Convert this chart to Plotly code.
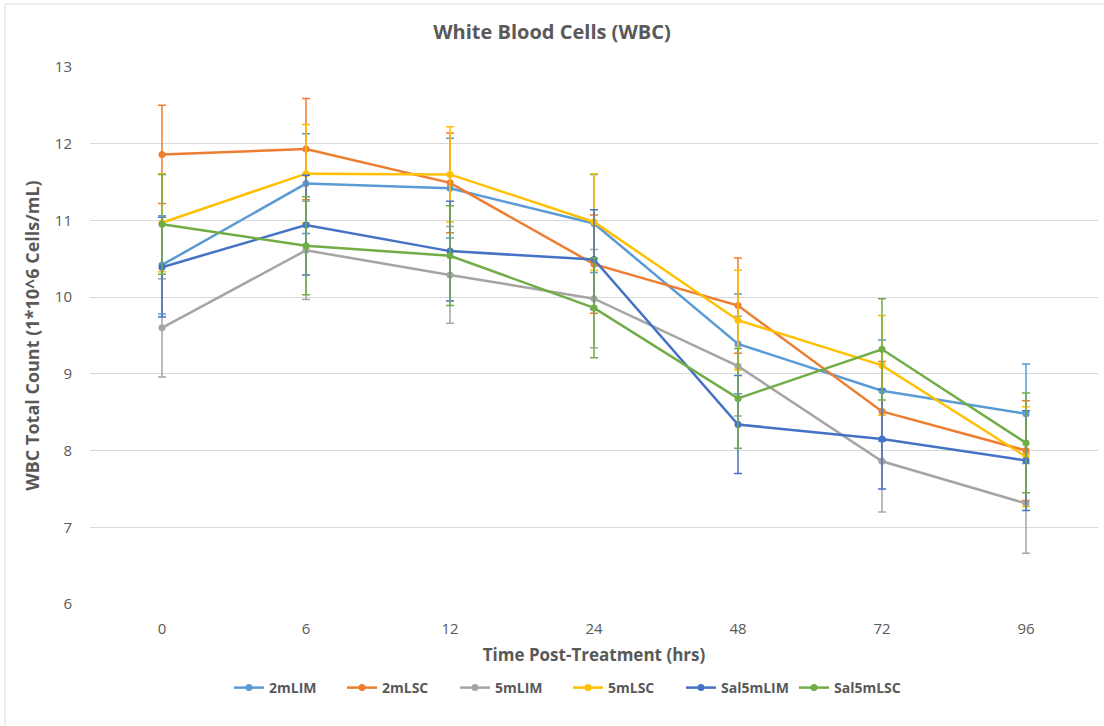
import plotly.graph_objects as go

times = ["0", "6", "12", "24", "48", "72", "96"]
series_names = ["2mLIM", "2mLSC", "5mLIM", "5mLSC", "Sal5mLIM", "Sal5mLSC"]
colors = ["#5B9BD5", "#ED7D31", "#A5A5A5", "#FFC000", "#4472C4", "#70AD47"]

v_2mLIM = [10.42, 11.48, 11.42, 10.96, 9.39, 8.78, 8.48]
v_2mLSC = [11.86, 11.93, 11.49, 10.43, 9.89, 8.51, 8.00]
v_5mLIM = [9.60, 10.61, 10.29, 9.98, 9.10, 7.86, 7.31]
v_5mLSC = [10.97, 11.61, 11.60, 10.98, 9.70, 9.11, 7.92]
v_Sal5mLIM = [10.39, 10.94, 10.60, 10.49, 8.34, 8.15, 7.87]
v_Sal5mLSC = [10.95, 10.67, 10.54, 9.86, 8.68, 9.32, 8.10]

e_2mLIM = [0.64, 0.65, 0.65, 0.64, 0.65, 0.66, 0.65]
e_2mLSC = [0.64, 0.66, 0.65, 0.64, 0.62, 0.65, 0.65]
e_5mLIM = [0.64, 0.64, 0.63, 0.64, 0.65, 0.66, 0.65]
e_5mLSC = [0.64, 0.64, 0.62, 0.63, 0.65, 0.65, 0.65]
e_Sal5mLIM = [0.65, 0.65, 0.65, 0.65, 0.64, 0.65, 0.65]
e_Sal5mLSC = [0.65, 0.64, 0.65, 0.65, 0.65, 0.66, 0.65]

values = [v_2mLIM, v_2mLSC, v_5mLIM, v_5mLSC, v_Sal5mLIM, v_Sal5mLSC]
errors = [e_2mLIM, e_2mLSC, e_5mLIM, e_5mLSC, e_Sal5mLIM, e_Sal5mLSC]

FONT = "Open Sans"
GRAY = "#595959"

fig = go.Figure()
for name, col, v, e in zip(series_names, colors, values, errors):
    fig.add_trace(go.Scatter(
        x=times, y=v, name=name, mode="lines+markers",
        line=dict(color=col, width=2.5),
        marker=dict(color=col, size=7, symbol="circle"),
        error_y=dict(type="data", array=e, visible=True, color=col, thickness=1.5, width=4),
    ))

fig.update_layout(
    width=1104, height=726,
    margin=dict(l=90, r=6, t=67, b=122),
    paper_bgcolor="white", plot_bgcolor="white",
    font=dict(family=FONT, color=GRAY, size=15),
    title=dict(text="<b>White Blood Cells (WBC)</b>", x=0.5, xanchor="center",
               y=1 - 32 / 726, yanchor="middle", font=dict(size=20, color=GRAY, family=FONT)),
    xaxis=dict(type="category", range=[-0.5, 6.5], showgrid=False, zeroline=False,
               showline=False, ticks="outside", ticklen=11, tickcolor="rgba(0,0,0,0)",
               tickfont=dict(size=15, color=GRAY),
               title=dict(text="<b>Time Post-Treatment (hrs)</b>", font=dict(size=17, color=GRAY), standoff=12)),
    yaxis=dict(range=[6, 13], dtick=1, showgrid=True, gridcolor="#D9D9D9", gridwidth=1,
               zeroline=False, showline=False, ticks="outside", ticklen=14, tickcolor="rgba(0,0,0,0)",
               tickfont=dict(size=15, color=GRAY),
               title=dict(text="<b>WBC Total Count (1*10^6 Cells/mL)</b>", font=dict(size=18, color=GRAY), standoff=10)),
    legend=dict(orientation="h", x=(568 - 90) / 1008, xanchor="center", y=(604 - 688) / 537, yanchor="middle",
                font=dict(size=14, color=GRAY, weight="bold"), itemwidth=30, traceorder="normal",
                entrywidth=68, entrywidthmode="pixels"),
    showlegend=True,
)

fig.add_shape(type="rect", xref="paper", yref="paper",
              x0=(5 - 90) / 1008, x1=1.2, y0=-0.5, y1=(604 - 4) / 537,
              line=dict(color="#D9D9D9", width=1), fillcolor="rgba(0,0,0,0)", layer="below")

fig.write_html("out.html")
